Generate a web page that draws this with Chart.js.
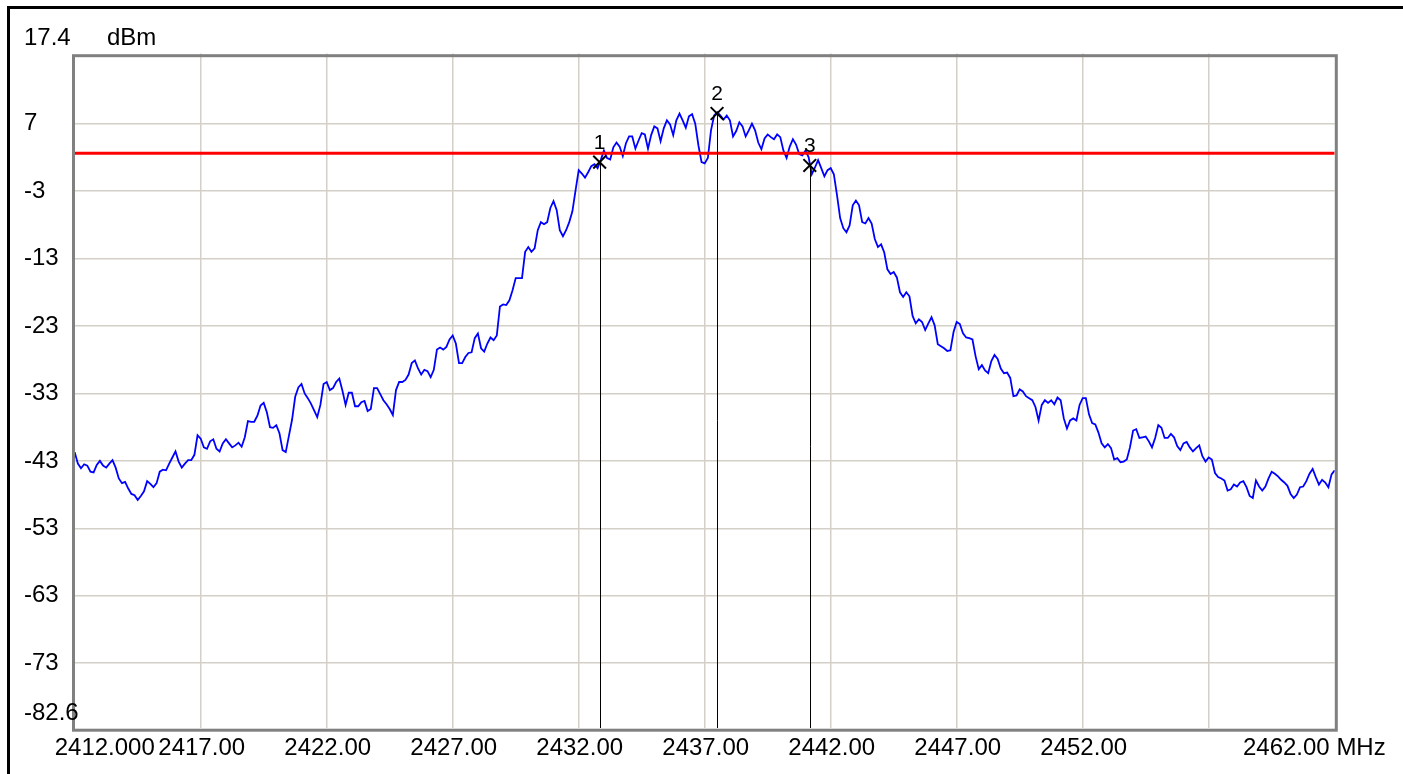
<!DOCTYPE html>
<html>
<head>
<meta charset="utf-8">
<title>Spectrum 2412-2462 MHz</title>
<script src="https://cdn.jsdelivr.net/npm/chart.js@4.4.1/dist/chart.umd.min.js"></script>
<style>
  html, body { margin: 0; padding: 0; background: #fff; }
  #chart { display: block; }
</style>
</head>
<body>
<canvas id="chart" width="1403" height="774"></canvas>
<script>
// ---- data ----
const startMHz = 2412;
const stopMHz = 2462;
const binMHz = 0.125; // one trace sample every 125 kHz
const refDbm = 17.4;
const bottomDbm = -82.6;

const xGridMHz = [2417, 2422, 2427, 2432, 2437, 2442, 2447, 2452, 2457];
const xLabelMHz = [2412, 2417, 2422, 2427, 2432, 2437, 2442, 2447, 2452, 2462];
const xLabels = ["2412.000", "2417.00", "2422.00", "2427.00", "2432.00", "2437.00",
  "2442.00", "2447.00", "2452.00", "2462.00 MHz"];

const yGridDbm = [7, -3, -13, -23, -33, -43, -53, -63, -73];
const yLabelDbm = [17.4, 7, -3, -13, -23, -33, -43, -53, -63, -73, -82.6];
const yLabels = ["17.4", "7", "-3", "-13", "-23", "-33", "-43", "-53", "-63", "-73", "-82.6"];
const unitLabel = "dBm";

const thresholdDbm = 2.6;

const markerMHz = [2432.83, 2437.49, 2441.17];
const markerDbm = [1.3, 8.5, 0.8];
const markerNames = ["1", "2", "3"];

// trace level, dBm, 8 samples per MHz
const traceDbm = [
  -41.7, -43.4, -44.1, -43.5, -43.7, -44.6, -44.7, -43.6,
  -43.0, -43.7, -44.0, -43.4, -42.9, -44.0, -45.6, -46.3,
  -46.1, -47.1, -47.9, -48.1, -48.8, -48.2, -47.5, -46.0,
  -46.4, -46.9, -46.3, -44.6, -44.3, -44.4, -43.4, -42.5,
  -41.6, -43.1, -44.0, -43.4, -42.9, -42.9, -42.1, -39.2,
  -39.7, -41.0, -41.2, -40.1, -39.8, -41.2, -41.6, -40.4,
  -39.8, -40.4, -41.0, -40.7, -40.3, -40.9, -39.5, -37.1,
  -37.2, -37.2, -36.3, -34.8, -34.4, -35.8, -38.0, -38.1,
  -37.7, -38.9, -41.4, -41.7, -39.3, -36.9, -33.5, -32.1,
  -31.6, -33.0, -33.7, -34.5, -35.5, -36.5, -34.7, -31.6,
  -31.3, -32.5, -32.2, -31.3, -30.8, -32.6, -34.7, -32.9,
  -32.9, -34.9, -34.9, -34.3, -34.1, -35.6, -35.3, -32.2,
  -32.2, -33.1, -34.0, -34.6, -35.3, -36.2, -32.5, -31.3,
  -31.3, -31.0, -30.2, -28.5, -28.1, -29.3, -30.2, -29.5,
  -29.7, -30.6, -29.5, -26.5, -26.2, -26.5, -26.1, -25.0,
  -24.4, -25.6, -28.5, -28.5, -27.6, -27.0, -26.9, -24.8,
  -24.1, -26.3, -26.8, -25.6, -24.7, -25.1, -24.4, -20.1,
  -19.8, -19.9, -19.2, -17.7, -15.9, -15.9, -15.9, -12.0,
  -11.3, -12.0, -11.5, -8.8, -7.6, -7.9, -7.6, -5.5,
  -4.5, -5.8, -8.8, -9.7, -8.8, -7.6, -6.0, -2.9,
  0.1, -0.4, -1.0, -0.2, 0.7, 1.0, 0.4, 1.6,
  3.0, 1.9, 1.7, 3.5, 4.2, 3.6, 2.2, 4.1,
  5.1, 5.1, 3.3, 4.5, 5.6, 5.4, 3.3, 5.3,
  6.6, 6.3, 4.4, 6.3, 7.5, 6.9, 5.3, 7.5,
  8.5, 7.5, 6.4, 8.1, 8.4, 7.0, 3.8, 1.3,
  1.1, 1.9, 6.0, 8.2, 8.7, 8.2, 7.6, 8.2,
  7.5, 5.1, 5.9, 7.2, 6.6, 5.1, 6.0, 7.0,
  6.0, 4.2, 3.2, 4.8, 5.4, 5.0, 4.7, 5.4,
  5.0, 3.0, 1.9, 3.6, 4.7, 3.9, 2.5, 2.3,
  3.0, 2.0, -0.5, 0.5, 1.6, 0.4, -0.8, 0.1,
  0.4, -0.5, -3.6, -7.0, -8.5, -9.1, -8.1, -5.1,
  -4.4, -5.1, -7.6, -7.8, -7.0, -7.8, -10.1, -11.3,
  -10.9, -12.1, -14.6, -15.3, -15.0, -15.8, -18.0, -18.7,
  -18.0, -18.6, -21.5, -22.6, -22.0, -22.4, -23.6, -22.6,
  -21.7, -22.9, -25.7, -26.0, -26.3, -26.7, -26.6, -23.9,
  -22.4, -22.7, -24.1, -24.7, -24.8, -25.0, -27.5, -29.4,
  -28.8, -29.6, -30.0, -28.2, -27.3, -27.9, -29.3, -30.0,
  -29.9, -30.7, -33.4, -33.3, -32.4, -32.7, -33.4, -33.7,
  -34.0, -35.0, -37.0, -34.7, -34.0, -34.4, -34.0, -34.6,
  -33.6, -34.0, -36.7, -38.2, -37.0, -36.7, -37.0, -34.7,
  -33.7, -33.7, -36.1, -37.4, -37.6, -38.8, -40.4, -41.0,
  -40.5, -41.1, -42.8, -42.6, -43.2, -43.1, -42.8, -41.0,
  -38.5, -38.3, -39.6, -39.5, -39.4, -40.1, -41.0, -39.6,
  -37.7, -38.1, -39.6, -39.6, -39.0, -39.5, -40.8, -41.4,
  -40.4, -40.2, -41.0, -41.6, -41.1, -40.7, -42.3, -43.1,
  -42.5, -42.8, -44.8, -45.4, -45.6, -45.9, -47.4, -47.2,
  -46.5, -46.8, -46.2, -46.0, -46.9, -48.2, -48.5, -45.9,
  -46.8, -47.4, -46.8, -45.6, -44.6, -44.9, -45.3, -45.8,
  -46.2, -46.7, -47.9, -48.5, -48.0, -46.9, -46.8, -46.0,
  -44.9, -44.2, -45.4, -46.5, -45.8, -46.2, -46.9, -45.0,
  -44.4
];

const tracePoints = traceDbm.map((v, i) => ({ x: startMHz + i * binMHz, y: v }));
const markerPoints = markerMHz.map((f, i) => ({ x: f, y: markerDbm[i] }));

const FONT = '"Liberation Sans", Arial, sans-serif';

// labels, marker lines, plot frame and outer window frame
const screenPlugin = {
  id: "screen",
  afterDatasetsDraw(chart) {
    const { ctx, chartArea: a, scales } = chart;
    ctx.save();
    // marker drop lines
    ctx.strokeStyle = "#000";
    ctx.lineWidth = 1;
    markerPoints.forEach((p) => {
      const x = Math.round(scales.x.getPixelForValue(p.x)) + 0.5;
      ctx.beginPath();
      ctx.moveTo(x, scales.y.getPixelForValue(p.y));
      ctx.lineTo(x, a.bottom);
      ctx.stroke();
    });
    // marker numbers
    ctx.fillStyle = "#000";
    ctx.font = "21px " + FONT;
    ctx.textAlign = "center";
    ctx.textBaseline = "middle";
    markerPoints.forEach((p, i) => {
      ctx.fillText(markerNames[i], scales.x.getPixelForValue(p.x), scales.y.getPixelForValue(p.y) - 19);
    });
    // plot frame
    ctx.strokeStyle = "#808080";
    ctx.lineWidth = 3;
    ctx.strokeRect(a.left - 1.2, a.top + 2.2, a.right - a.left + 2.8, a.bottom - a.top);
    ctx.restore();
  },
  afterDraw(chart) {
    const { ctx, chartArea: a, scales } = chart;
    ctx.save();
    ctx.fillStyle = "#000";
    ctx.font = "24px " + FONT;
    ctx.textBaseline = "middle";
    // y labels
    ctx.textAlign = "left";
    yLabelDbm.forEach((v, i) => {
      let y = scales.y.getPixelForValue(v);
      if (i === 0 || i === yLabelDbm.length - 1) y -= 15;
      ctx.fillText(yLabels[i], 24, y);
    });
    ctx.fillText(unitLabel, 107, scales.y.getPixelForValue(refDbm) - 15);
    // x labels
    const ly = a.bottom + 20.5;
    xLabelMHz.forEach((f, i) => {
      const x = scales.x.getPixelForValue(f);
      if (i === 0) {
        ctx.textAlign = "left";
        ctx.fillText(xLabels[i], x - 20, ly);
      } else if (i === xLabelMHz.length - 1) {
        ctx.textAlign = "right";
        ctx.fillText(xLabels[i], x + 51, ly);
      } else {
        ctx.textAlign = "center";
        ctx.fillText(xLabels[i], x + 1, ly);
      }
    });
    // outer window frame (top and left edges)
    ctx.fillRect(7, 6, chart.width - 7, 3);
    ctx.fillRect(7, 6, 3, chart.height - 6);
    ctx.restore();
  }
};

new Chart(document.getElementById("chart"), {
  type: "line",
  data: {
    datasets: [
      {
        label: "markers",
        data: markerPoints,
        showLine: false,
        pointStyle: "crossRot",
        pointRadius: 9,
        pointBorderWidth: 2,
        pointBorderColor: "#000",
        borderColor: "#000",
        order: 0
      },
      {
        label: "threshold",
        data: [{ x: startMHz, y: thresholdDbm }, { x: stopMHz, y: thresholdDbm }],
        borderColor: "#ff0000",
        borderWidth: 3,
        pointRadius: 0,
        order: 1
      },
      {
        label: "trace",
        data: tracePoints,
        borderColor: "#0000ff",
        borderWidth: 1.8,
        pointRadius: 0,
        tension: 0,
        order: 2
      }
    ]
  },
  options: {
    responsive: false,
    animation: false,
    events: [],
    layout: { padding: { left: 74.7, right: 68.3, top: 53.5, bottom: 46 } },
    plugins: {
      legend: { display: false },
      tooltip: { enabled: false }
    },
    scales: {
      x: {
        type: "linear",
        min: startMHz,
        max: stopMHz,
        afterBuildTicks: (s) => { s.ticks = xGridMHz.map((v) => ({ value: v })); },
        ticks: { display: false },
        grid: { color: "#d4d0c8", lineWidth: 1.5, drawTicks: false },
        border: { display: false }
      },
      y: {
        type: "linear",
        min: bottomDbm,
        max: refDbm,
        afterBuildTicks: (s) => { s.ticks = yGridDbm.map((v) => ({ value: v })); },
        ticks: { display: false },
        grid: { color: "#d4d0c8", lineWidth: 1.5, drawTicks: false },
        border: { display: false }
      }
    }
  },
  plugins: [screenPlugin]
});
</script>
</body>
</html>
